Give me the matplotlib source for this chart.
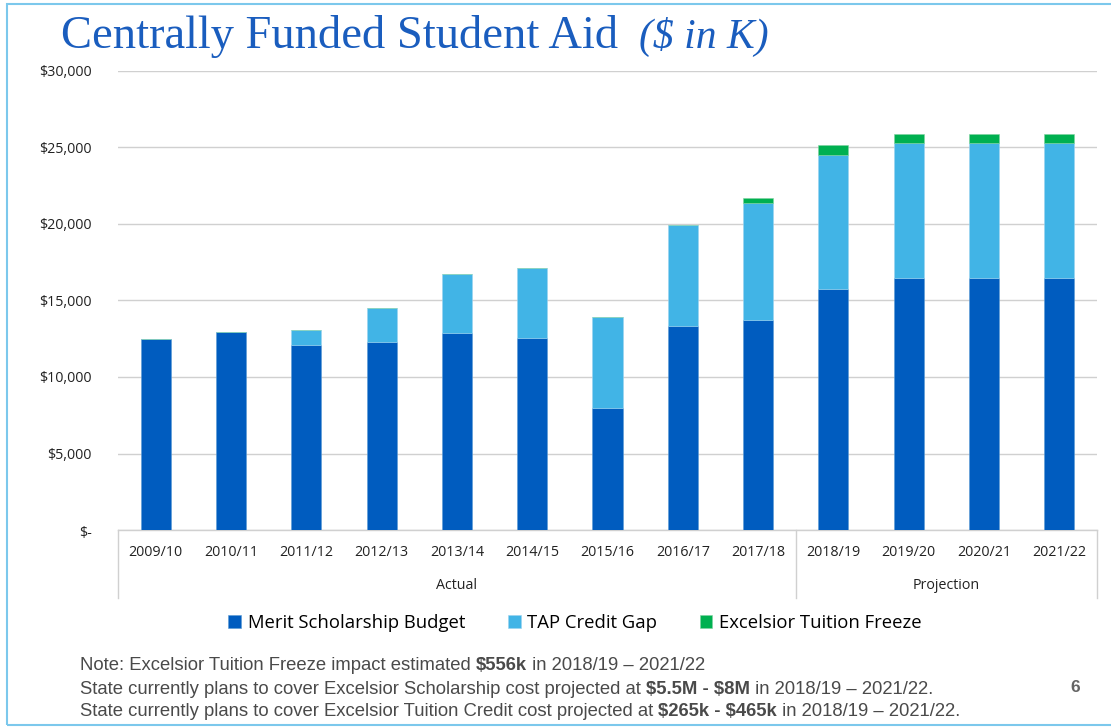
import numpy as np
import matplotlib as mpl
mpl.use('Agg')
from matplotlib import pyplot as plt
from matplotlib.patches import Rectangle
import matplotlib.transforms as mtransforms

# data ($ in K)
years = ['2009/10', '2010/11', '2011/12', '2012/13', '2013/14', '2014/15', '2015/16',
         '2016/17', '2017/18', '2018/19', '2019/20', '2020/21', '2021/22']
merit = [12500, 12950, 12100, 12300, 12900, 12550, 7950, 13350, 13700, 15750, 16500, 16500, 16500]
tap = [0, 0, 1000, 2200, 3800, 4600, 5950, 6600, 7700, 8780, 8800, 8800, 8800]
excelsior = [0, 0, 0, 0, 0, 0, 0, 0, 300, 630, 570, 570, 570]
groups = ['Actual', 'Projection']
group_sizes = [9, 4]
yticks = [0, 5000, 10000, 15000, 20000, 25000, 30000]
yticklabels = ['$-', '$5,000', '$10,000', '$15,000', '$20,000', '$25,000', '$30,000']

c_merit = '#005CBF'
c_tap = '#41B4E6'
c_exc = '#00B050'

W, H = 1111, 727
fig = plt.figure(figsize=(W / 100, H / 100), dpi=100)
ax = fig.add_axes([118 / W, 1 - 530 / H, (1097 - 118) / W, (530 - 71) / H])

x = np.arange(len(years))
bw = 0.4
ax.bar(x, merit, bw, color=c_merit, edgecolor='#5B9BD5', linewidth=0.4,
       label='Merit Scholarship Budget', zorder=3)
ax.bar(x, tap, bw, bottom=merit, color=c_tap, edgecolor='#9BD3F0', linewidth=0.4,
       label='TAP Credit Gap', zorder=3)
bot2 = np.array(merit) + np.array(tap)
ax.bar(x, excelsior, bw, bottom=bot2, color=c_exc, edgecolor='#7FD3A0', linewidth=0.4,
       label='Excelsior Tuition Freeze', zorder=3)

ax.set_xlim(-0.5, len(years) - 0.5)
ax.set_ylim(0, 30000)
ax.set_yticks(yticks)
ax.set_yticklabels(yticklabels, fontsize=10.3, color='#222222', family='Open Sans')
ax.tick_params(axis='y', length=0, pad=19)
for lab in ax.get_yticklabels():
    if lab.get_text() == '$-':
        lab.set_transform(lab.get_transform() + mtransforms.ScaledTranslation(0, -2 / 100, fig.dpi_scale_trans))
ax.grid(axis='y', color='#D0D0D0', linewidth=1, zorder=0)
ax.set_axisbelow(True)
for s in ['top', 'right', 'left']:
    ax.spines[s].set_visible(False)
ax.spines['bottom'].set_color('#D0D0D0')
ax.spines['bottom'].set_linewidth(1)

ax.set_xticks(x)
ax.set_xticklabels(years, fontsize=10.3, color='#222222', family='Open Sans')
ax.tick_params(axis='x', length=0, pad=11)

# group separators and labels below the axis
trans = mtransforms.blended_transform_factory(ax.transData, ax.transAxes)
start = -0.5
edges = [start]
for g, n in zip(groups, group_sizes):
    end = start + n
    ax.text((start + end) / 2, -0.122, g, transform=trans, ha='center', va='center',
            fontsize=10.3, color='#222222', family='Open Sans')
    edges.append(end)
    start = end
for e in edges:
    ax.plot([e, e], [0, -0.148], transform=trans, color='#D0D0D0', linewidth=1, clip_on=False)

ax.legend(loc='center', bbox_to_anchor=(575 / W, 1 - 623 / H), bbox_transform=fig.transFigure,
          ncol=3, frameon=False, handlelength=0.7, handleheight=0.7, handletextpad=0.35,
          columnspacing=2.3, prop={'family': 'Open Sans', 'size': 13.3})

# title
fig.canvas.draw()
r = fig.canvas.get_renderer()
t1 = fig.text(61 / W, 1 - 48 / H, 'Centrally Funded Student Aid', fontsize=33.5, color='#1A5DBE',
              family='Liberation Serif', ha='left', va='baseline')
bb = t1.get_window_extent(r)
fig.text(bb.x1 / W + 21 / W, 1 - 48 / H, '($ in K)', fontsize=30, color='#1A5DBE',
         family='Liberation Serif', style='italic', ha='left', va='baseline')

# notes with bold fragments
notes = [
    [('Note: Excelsior Tuition Freeze impact estimated ', 'normal'), ('\\$556k', 'bold'),
     (' in 2018/19 \u2013 2021/22', 'normal')],
    [('State currently plans to cover Excelsior Scholarship cost projected at ', 'normal'),
     ('\\$5.5M - \\$8M', 'bold'), (' in 2018/19 \u2013 2021/22.', 'normal')],
    [('State currently plans to cover Excelsior Tuition Credit cost projected at ', 'normal'),
     ('\\$265k - \\$465k', 'bold'), (' in 2018/19 \u2013 2021/22.', 'normal')],
]
note_y = [665, 689, 712]
for parts, yy in zip(notes, note_y):
    xx = 80
    for txt, wt in parts:
        t = fig.text(xx / W, 1 - yy / H, txt, fontsize=13.3, color='#4A4A4A', weight=wt,
                     family='Liberation Sans', ha='left', va='center')
        ext = t.get_window_extent(r)
        xx = ext.x1
fig.text(1075 / W, 1 - 687 / H, '6', fontsize=12.5, color='#666666', weight='bold',
         family='Liberation Sans', ha='center', va='center')

# slide border
fig.patches.append(Rectangle((7 / W, 1 - 725 / H), 1.2, (725 - 4) / H, transform=fig.transFigure,
                             fill=False, edgecolor='#7CC8EC', linewidth=1.5))

fig.savefig('out.png', dpi=100)
